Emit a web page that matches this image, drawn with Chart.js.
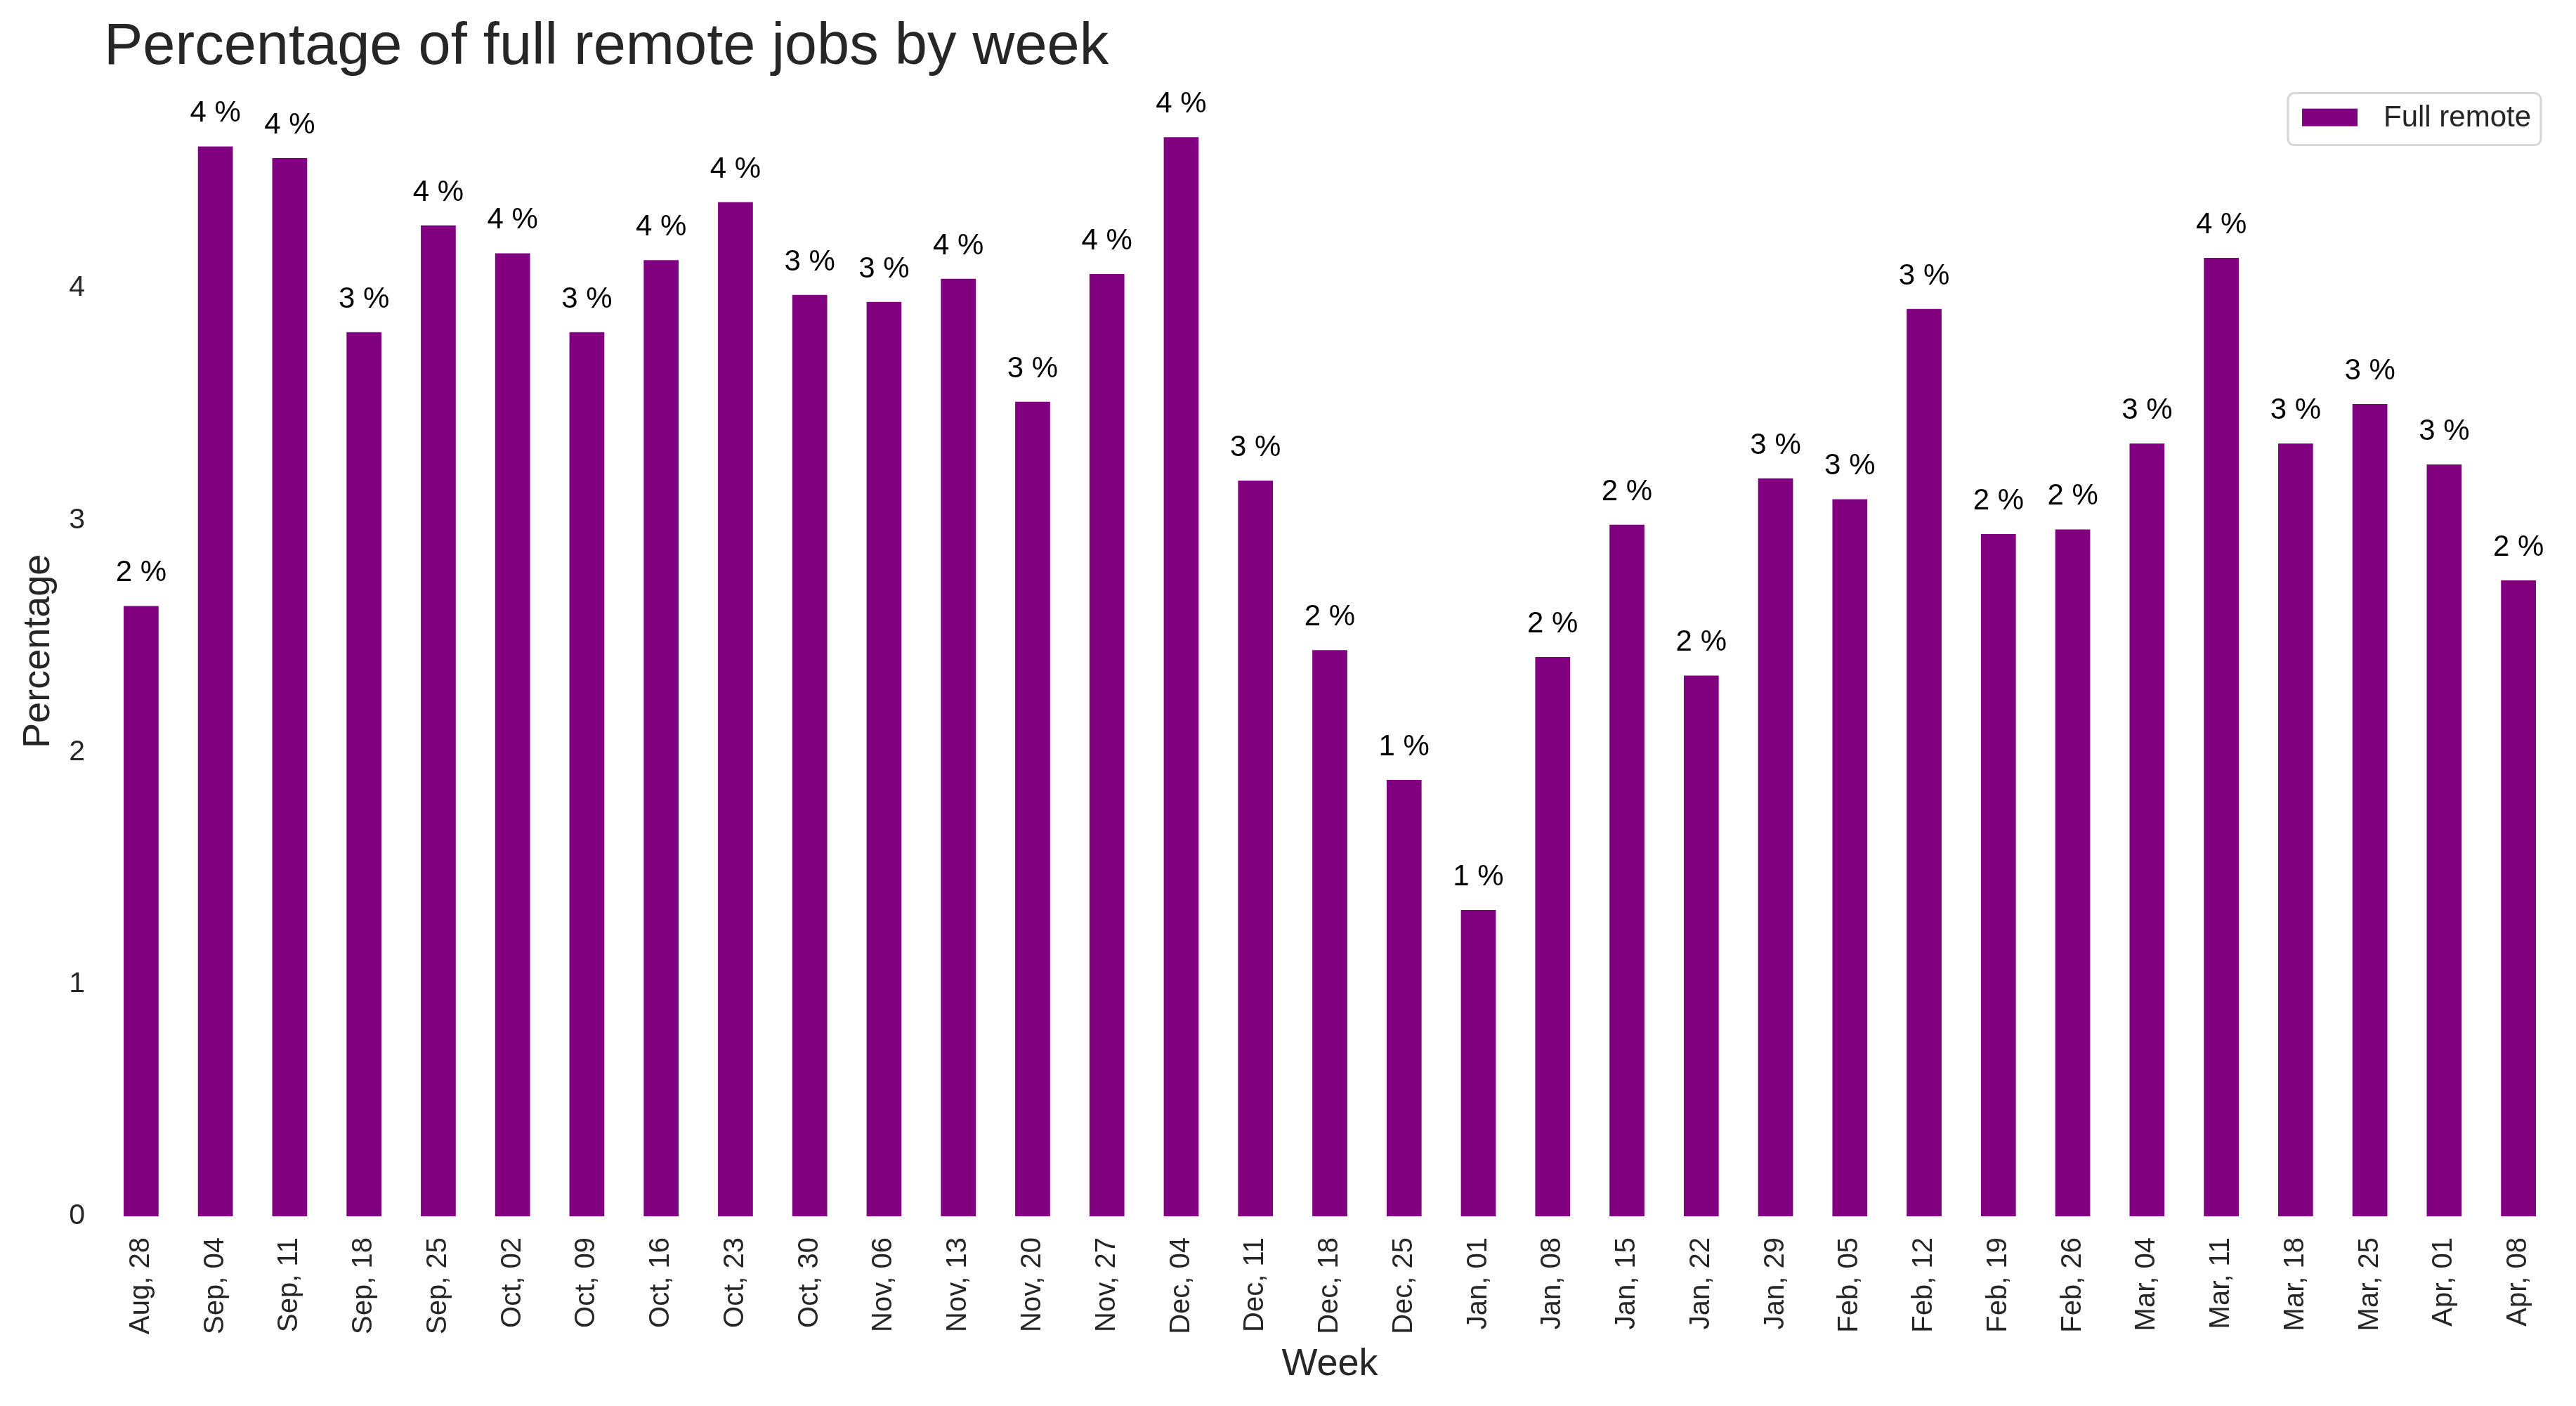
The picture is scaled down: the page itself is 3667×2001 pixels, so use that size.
<!DOCTYPE html>
<html lang="en">
<head>
<meta charset="UTF-8">
<title>Percentage of full remote jobs by week</title>
<script src="https://cdn.jsdelivr.net/npm/chart.js"></script>
<style>
    body { margin: 0; background: #ffffff; }
    #wrap { width: 3667px; height: 2001px; }
</style>
</head>
<body>
<div id="wrap"><canvas id="myChart" width="3667" height="2001"></canvas></div>
<script>
    // data
    const weeks = ['Aug, 28', 'Sep, 04', 'Sep, 11', 'Sep, 18', 'Sep, 25', 'Oct, 02', 'Oct, 09', 'Oct, 16',
        'Oct, 23', 'Oct, 30', 'Nov, 06', 'Nov, 13', 'Nov, 20', 'Nov, 27', 'Dec, 04', 'Dec, 11', 'Dec, 18',
        'Dec, 25', 'Jan, 01', 'Jan, 08', 'Jan, 15', 'Jan, 22', 'Jan, 29', 'Feb, 05', 'Feb, 12', 'Feb, 19',
        'Feb, 26', 'Mar, 04', 'Mar, 11', 'Mar, 18', 'Mar, 25', 'Apr, 01', 'Apr, 08'];
    const fullRemote = [2.63, 4.61, 4.56, 3.81, 4.27, 4.15, 3.81, 4.12,
        4.37, 3.97, 3.94, 4.04, 3.51, 4.06, 4.65, 3.17, 2.44,
        1.88, 1.32, 2.41, 2.98, 2.33, 3.18, 3.09, 3.91, 2.94,
        2.96, 3.33, 4.13, 3.33, 3.50, 3.24, 2.74];
    const yTicks = [0, 1, 2, 3, 4];
    const yMax = 4.87;

    const FONT = '"Liberation Sans", Arial, sans-serif';
    const BAR_COLOR = '#800080';
    const TEXT_COLOR = '#262626';

    // value labels above the bars ("4 %", truncated like the original)
    const barLabels = {
        id: 'barLabels',
        afterDatasetsDraw(chart) {
            const ctx = chart.ctx;
            const meta = chart.getDatasetMeta(0);
            ctx.save();
            ctx.font = '42px ' + FONT;
            ctx.fillStyle = '#000000';
            ctx.textAlign = 'center';
            ctx.textBaseline = 'alphabetic';
            meta.data.forEach((bar, i) => {
                const txt = Math.floor(fullRemote[i]) + ' %';
                ctx.fillText(txt, bar.x, bar.y - 35);
            });
            ctx.restore();
        }
    };

    // matplotlib-like framed legend in the upper right corner
    const boxLegend = {
        id: 'boxLegend',
        afterDraw(chart) {
            const ctx = chart.ctx;
            const area = chart.chartArea;
            const w = 360, h = 74;
            const x = area.right - 21 - w;
            const y = area.top + 10;
            ctx.save();
            ctx.beginPath();
            ctx.roundRect(x, y, w, h, 9);
            ctx.fillStyle = 'rgba(255,255,255,0.8)';
            ctx.fill();
            ctx.lineWidth = 3;
            ctx.strokeStyle = '#d6d6d6';
            ctx.stroke();
            ctx.fillStyle = BAR_COLOR;
            ctx.fillRect(x + 20, y + 22, 79, 25);
            ctx.fillStyle = TEXT_COLOR;
            ctx.font = '42px ' + FONT;
            ctx.textAlign = 'left';
            ctx.textBaseline = 'middle';
            ctx.fillText(chart.data.datasets[0].label, x + 136, y + 36);
            ctx.restore();
        }
    };

    const ctx = document.getElementById('myChart').getContext('2d');
    new Chart(ctx, {
        type: 'bar',
        data: {
            labels: weeks,
            datasets: [{
                label: 'Full remote',
                data: fullRemote,
                backgroundColor: BAR_COLOR,
                borderWidth: 0,
                barPercentage: 0.47,
                categoryPercentage: 1.0
            }]
        },
        options: {
            responsive: false,
            animation: false,
            devicePixelRatio: 1,
            layout: { padding: { left: 0, right: 29, top: 0, bottom: 0 } },
            plugins: {
                legend: { display: false },
                tooltip: { enabled: false },
                title: {
                    display: true,
                    text: 'Percentage of full remote jobs by week',
                    align: 'start',
                    fullSize: false,
                    color: TEXT_COLOR,
                    font: { family: FONT, size: 83, weight: 'normal' },
                    padding: { top: 18, bottom: 5 }
                }
            },
            scales: {
                x: {
                    grid: { display: false, drawTicks: false },
                    border: { display: false },
                    ticks: {
                        autoSkip: false,
                        maxRotation: 90,
                        minRotation: 90,
                        padding: 30,
                        color: TEXT_COLOR,
                        font: { family: FONT, size: 40 }
                    },
                    title: {
                        display: true,
                        text: 'Week',
                        color: TEXT_COLOR,
                        font: { family: FONT, size: 54 },
                        padding: { top: 0, bottom: 26 }
                    },
                    afterFit(scale) { scale.height = 270; }
                },
                y: {
                    min: 0,
                    max: yMax,
                    grid: { display: false, drawTicks: false },
                    border: { display: false },
                    ticks: {
                        padding: 27,
                        color: TEXT_COLOR,
                        font: { family: FONT, size: 41 }
                    },
                    afterBuildTicks(scale) {
                        scale.ticks = yTicks.map(v => ({ value: v }));
                    },
                    title: {
                        display: true,
                        text: 'Percentage',
                        color: TEXT_COLOR,
                        font: { family: FONT, size: 54 },
                        padding: { top: 23, bottom: 0 }
                    },
                    afterFit(scale) { scale.width = 148; }
                }
            }
        },
        plugins: [barLabels, boxLegend]
    });
</script>
</body>
</html>
